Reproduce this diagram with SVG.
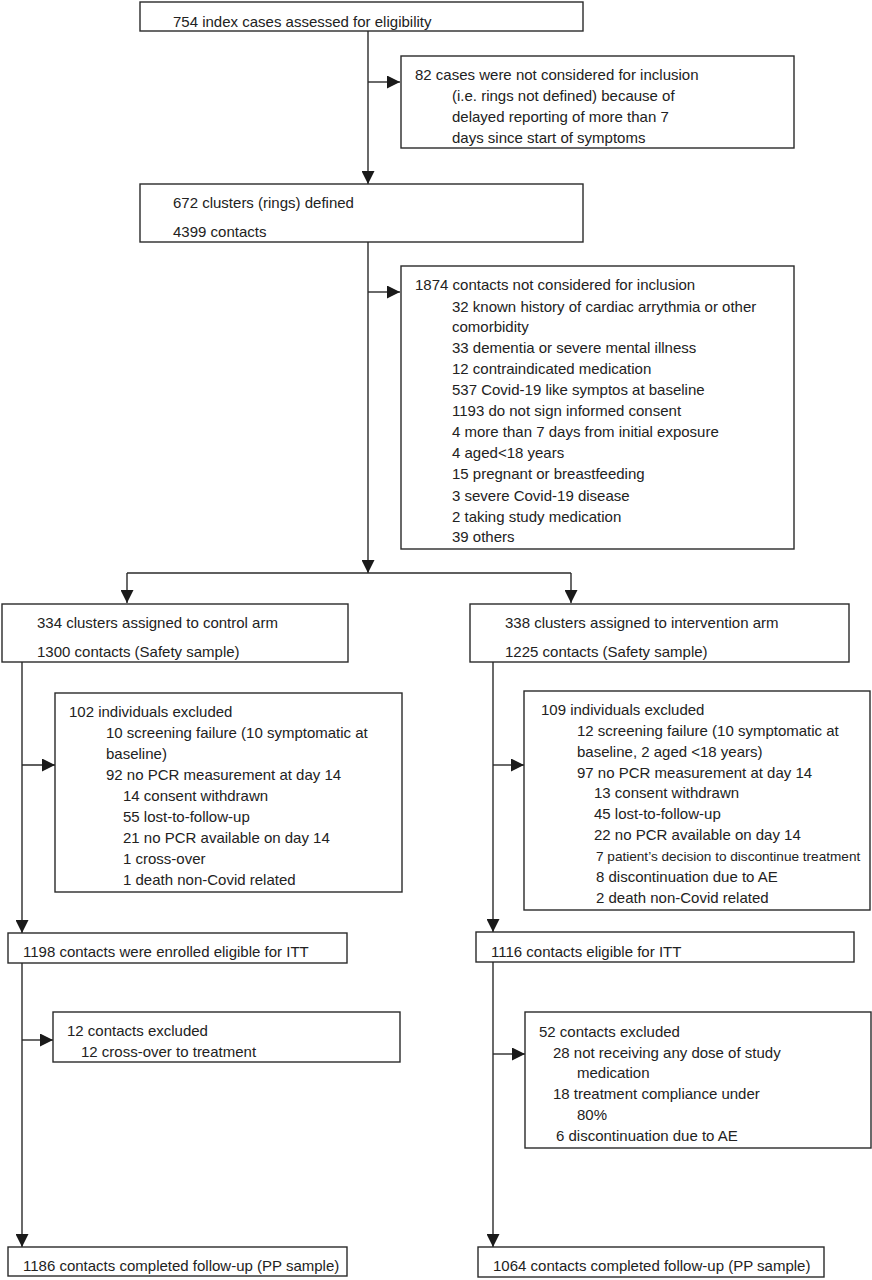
<svg xmlns="http://www.w3.org/2000/svg" width="872" height="1280" viewBox="0 0 872 1280">
<style>
.b{fill:#fff;stroke:#2a2a2a;stroke-width:1.4}
.c{fill:none;stroke:#2a2a2a;stroke-width:1.4}
text{font-family:"Liberation Sans",Arial,sans-serif;font-size:15px;fill:#222}
.s{font-size:13.6px}
</style>
<defs>
<marker id="ah" viewBox="0 0 10 10" refX="10" refY="5" markerWidth="13" markerHeight="13" markerUnits="userSpaceOnUse" orient="auto"><path d="M0,0 L10,5 L0,10 z" fill="#1a1a1a"/></marker>
</defs>
<rect width="872" height="1280" fill="#fff"/>
<g id="connectors">
<path class="c" d="M368,31 V184" marker-end="url(#ah)"/>
<path class="c" d="M368,82 H400" marker-end="url(#ah)"/>
<path class="c" d="M368,242 V573" marker-end="url(#ah)"/>
<path class="c" d="M368,292 H400" marker-end="url(#ah)"/>
<path class="c" d="M127,573 H571"/>
<path class="c" d="M127,573 V603" marker-end="url(#ah)"/>
<path class="c" d="M571,573 V603" marker-end="url(#ah)"/>
<path class="c" d="M22,662 V933" marker-end="url(#ah)"/>
<path class="c" d="M22,765 H55" marker-end="url(#ah)"/>
<path class="c" d="M22,963 V1247" marker-end="url(#ah)"/>
<path class="c" d="M22,1040 H53" marker-end="url(#ah)"/>
<path class="c" d="M493,662 V932" marker-end="url(#ah)"/>
<path class="c" d="M493,765 H524" marker-end="url(#ah)"/>
<path class="c" d="M493,962 V1247" marker-end="url(#ah)"/>
<path class="c" d="M493,1054 H525" marker-end="url(#ah)"/>
</g>
<g id="n754"><rect class="b" x="140" y="2" width="443" height="29"/><text x="173" y="27">754 index cases assessed for eligibility</text></g>
<g id="n82"><rect class="b" x="401" y="56" width="393" height="92"/>
<text x="415" y="80">82 cases were not considered for inclusion</text>
<text x="452" y="101">(i.e. rings not defined) because of</text>
<text x="452" y="122">delayed reporting of more than 7</text>
<text x="452" y="143">days since start of symptoms</text></g>
<g id="n672"><rect class="b" x="140" y="184" width="443" height="58"/>
<text x="173" y="208">672 clusters (rings) defined</text>
<text x="173" y="237">4399 contacts</text></g>
<g id="n1874"><rect class="b" x="401" y="266" width="393" height="283"/>
<text x="415" y="290">1874 contacts not considered for inclusion</text>
<text x="452" y="312">32 known history of cardiac arrythmia or other</text>
<text x="452" y="332">comorbidity</text>
<text x="452" y="353">33 dementia or severe mental illness</text>
<text x="452" y="374">12 contraindicated medication</text>
<text x="452" y="395">537 Covid-19 like symptos at baseline</text>
<text x="452" y="416">1193 do not sign informed consent</text>
<text x="452" y="437">4 more than 7 days from initial exposure</text>
<text x="452" y="458">4 aged&lt;18 years</text>
<text x="452" y="479">15 pregnant or breastfeeding</text>
<text x="452" y="501">3 severe Covid-19 disease</text>
<text x="452" y="522">2 taking study medication</text>
<text x="452" y="542">39 others</text></g>
<g id="ncontrol"><rect class="b" x="2" y="604" width="346" height="58"/>
<text x="37" y="628">334 clusters assigned to control arm</text>
<text x="37" y="657">1300 contacts (Safety sample)</text></g>
<g id="nintervention"><rect class="b" x="470" y="604" width="379" height="58"/>
<text x="505" y="628">338 clusters assigned to intervention arm</text>
<text x="505" y="657">1225 contacts (Safety sample)</text></g>
<g id="n102"><rect class="b" x="55" y="693" width="347" height="199"/>
<text x="69" y="717">102 individuals excluded</text>
<text x="106" y="738">10 screening failure (10 symptomatic at</text>
<text x="106" y="759">baseline)</text>
<text x="106" y="780">92 no PCR measurement at day 14</text>
<text x="123" y="801">14 consent withdrawn</text>
<text x="123" y="822">55 lost-to-follow-up</text>
<text x="123" y="843">21 no PCR available on day 14</text>
<text x="123" y="864">1 cross-over</text>
<text x="123" y="885">1 death non-Covid related</text></g>
<g id="n109"><rect class="b" x="524" y="691" width="346" height="219"/>
<text x="541" y="715">109 individuals excluded</text>
<text x="577" y="736">12 screening failure (10 symptomatic at</text>
<text x="577" y="757">baseline, 2 aged &lt;18 years)</text>
<text x="577" y="778">97 no PCR measurement at day 14</text>
<text x="594" y="798">13 consent withdrawn</text>
<text x="594" y="819">45 lost-to-follow-up</text>
<text x="594" y="840">22 no PCR available on day 14</text>
<text class="s" x="596" y="861">7 patient’s decision to discontinue treatment</text>
<text x="596" y="882">8 discontinuation due to AE</text>
<text x="596" y="903">2 death non-Covid related</text></g>
<g id="n1198"><rect class="b" x="8" y="933" width="339" height="30"/>
<text x="23" y="957">1198 contacts were enrolled eligible for ITT</text></g>
<g id="n1116"><rect class="b" x="476" y="932" width="378" height="30"/>
<text x="491" y="957">1116 contacts eligible for ITT</text></g>
<g id="n12"><rect class="b" x="53" y="1012" width="347" height="50"/>
<text x="67" y="1036">12 contacts excluded</text>
<text x="81" y="1057">12 cross-over to treatment</text></g>
<g id="n52"><rect class="b" x="525" y="1012" width="346" height="136"/>
<text x="539" y="1037">52 contacts excluded</text>
<text x="553" y="1058">28 not receiving any dose of study</text>
<text x="577" y="1078">medication</text>
<text x="553" y="1099">18 treatment compliance under</text>
<text x="577" y="1120">80%</text>
<text x="556" y="1141">6 discontinuation due to AE</text></g>
<g id="n1186"><rect class="b" x="8" y="1247" width="339" height="29"/>
<text x="23" y="1271">1186 contacts completed follow-up (PP sample)</text></g>
<g id="n1064"><rect class="b" x="478" y="1247" width="346" height="30"/>
<text x="493" y="1271">1064 contacts completed follow-up (PP sample)</text></g>
</svg>
